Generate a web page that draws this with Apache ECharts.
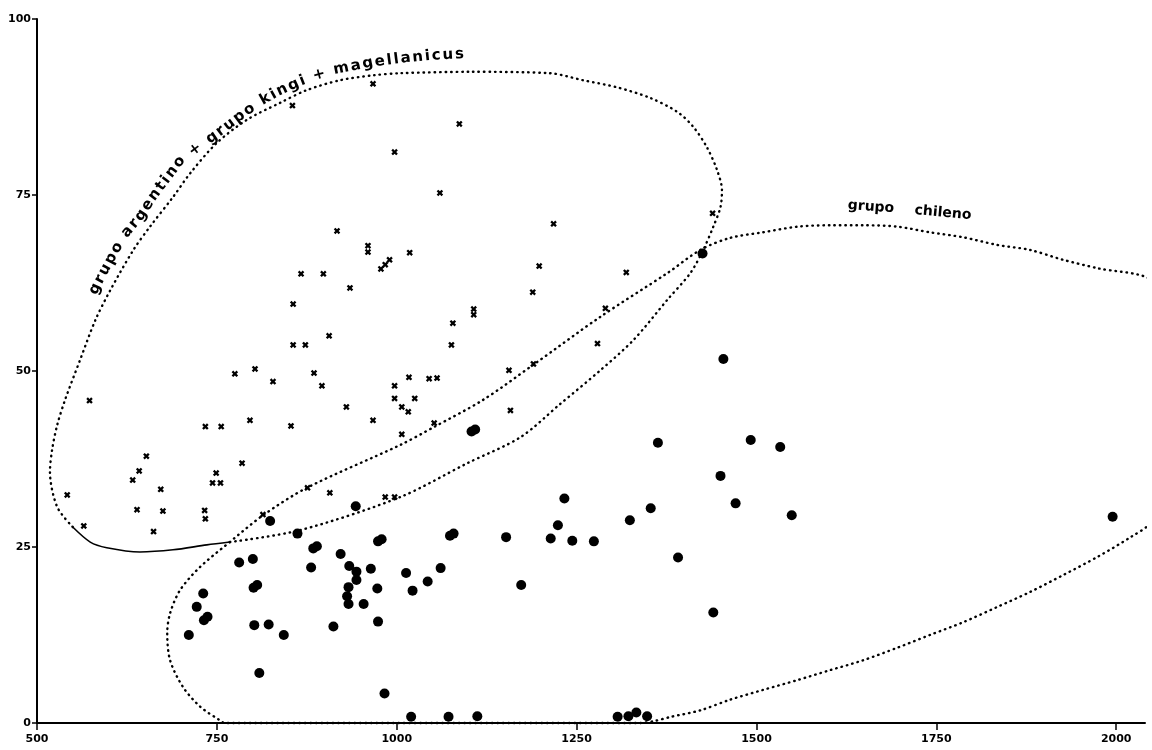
<!DOCTYPE html>
<html><head><meta charset="utf-8">
<script src="https://cdn.jsdelivr.net/npm/echarts@6/dist/echarts.min.js"></script>
<style>html,body{margin:0;padding:0;background:#fff}#c{width:1152px;height:750px}</style>
</head><body><div id="c"></div>
<script>
const xTickValues = [500, 750, 1000, 1250, 1500, 1750, 2000];
const yTickValues = [0, 25, 50, 75, 100];

// grupo argentino + grupo kingi + magellanicus (crosses)
const crossPoints = [
  [967,90.8],[855,87.7],[997,81.1],[917,69.9],[960,67.8],[960,66.9],
  [978,64.5],[984,65.1],[990,65.8],[867,63.8],[898,63.8],[935,61.8],
  [856,59.5],[906,55.0],[856,53.7],[873,53.7],[775,49.6],[803,50.3],
  [828,48.5],[885,49.7],[896,47.9],[997,47.9],[997,46.1],[573,45.8],
  [1087,85.1],[1060,75.3],[1218,70.9],[1018,66.8],[1439,72.4],[1198,64.9],
  [1319,64.0],[1189,61.2],[1107,58.8],[1107,58.0],[1078,56.8],[1290,58.9],
  [1076,53.7],[1279,53.9],[1017,49.1],[1045,48.9],[1056,49.0],[1156,50.1],
  [1190,51.0],[1025,46.1],[930,44.9],[967,43.0],[734,42.1],[756,42.1],
  [796,43.0],[853,42.2],[652,37.9],[642,35.8],[633,34.5],[672,33.2],
  [785,36.9],[749,35.5],[744,34.1],[755,34.1],[542,32.4],[639,30.3],
  [675,30.1],[733,30.2],[734,29.0],[565,28.0],[662,27.2],[876,33.4],
  [907,32.7],[814,29.6],[984,32.1],[997,32.1],[1007,44.9],[1016,44.2],
  [1052,42.6],[1007,41.0],[1158,44.4]
];

// grupo chileno (filled circles)
const circlePoints = [
  [824,28.7],[862,26.9],[943,30.8],[884,24.8],[889,25.1],[974,25.8],[979,26.1],
  [781,22.8],[800,23.3],[922,24.0],[881,22.1],[934,22.3],[944,21.5],[964,21.9],
  [944,20.3],[801,19.2],[806,19.6],[933,19.3],[973,19.1],[731,18.4],[931,18.0],
  [933,16.9],[954,16.9],[722,16.5],[732,14.6],[737,15.1],[802,13.9],[822,14.0],
  [843,12.5],[711,12.5],[912,13.7],[974,14.4],[809,7.1],[983,4.2],
  [1104,41.4],[1109,41.7],[1363,39.8],[1450,35.1],[1233,31.9],[1353,30.5],
  [1324,28.8],[1224,28.1],[1214,26.2],[1244,25.9],[1274,25.8],[1152,26.4],
  [1074,26.6],[1079,26.9],[1013,21.3],[1043,20.1],[1061,22.0],[1022,18.8],
  [1173,19.6],[1391,23.5],[1440,15.7],
  [1020,0.9],[1072,0.9],[1112,0.95],[1307,0.9],[1322,0.95],[1333,1.5],[1348,0.95],
  [1425,66.7],[1454,51.7],[1492,40.2],[1533,39.2],[1471,31.2],[1549,29.5],[1995,29.3]
];

// outline of the argentino/kingi/magellanicus group
const outlineArgentino = [
  [768,25.7],[866,27.4],[1005,32.1],[1098,36.9],[1172,40.6],[1227,45.3],
  [1283,50.1],[1329,54.4],[1376,60.1],[1408,63.9],[1426,67.2],[1440,70.5],
  [1450,73.3],[1452,75.7],[1445,78.6],[1431,81.8],[1412,84.7],[1390,86.8],
  [1352,88.8],[1306,90.3],[1259,91.3],[1213,92.3],[1102,92.5],[1005,92.3],
  [967,92.0],[921,91.3],[875,89.9],[838,88.1],[792,85.7],[750,82.4],
  [713,78.1],[689,74.7],[657,70.5],[634,67.2],[602,61.5],[581,57.2],
  [560,51.6],[539,45.9],[528,42.3],[521,38.8],[518,35.7],[528,30.7],[550,27.8]
];
const outlineArgentinoSolid = [
  [550,27.8],[574,25.7],[597,24.9],[643,24.3],[689,24.6],[736,25.3],[768,25.7]
];
// outline of the chileno group
const outlineChileno = [
  [768,25.7],[814,29.5],[875,33.4],[1005,39.5],[1051,42.0],[1120,45.9],
  [1190,50.9],[1283,57.7],[1376,63.9],[1422,67.2],[1463,68.9],[1509,69.7],
  [1557,70.5],[1602,70.7],[1648,70.7],[1696,70.5],[1741,69.7],[1787,69.0],
  [1835,67.9],[1880,67.2],[1926,65.8],[1974,64.6],[2050,62.9],[2082,57.2],
  [2096,45.9],[2082,34.5],[2050,28.6],[2020,26.4],[1974,23.6],[1926,21.0],
  [1880,18.6],[1835,16.5],[1787,14.3],[1741,12.5],[1696,10.7],[1648,8.9],
  [1602,7.5],[1557,6.1],[1509,4.7],[1463,3.3],[1422,1.8],[1380,0.85],
  [1359,0.3],[1338,0],[1000,0],[761,0],[754,0.4],[727,2.3],[703,5.1],
  [685,8.9],[681,12.8],[685,15.6],[699,18.9],[727,22.2],[768,25.7]
];
const labelArgentino = 'grupo argentino + grupo kingi + magellanicus';
const labelChileno1 = 'grupo';
const labelChileno2 = 'chileno';

const INK = '#000';
const chart = echarts.init(document.getElementById('c'), null, {renderer: 'canvas'});

const dotted = {color: INK, width: 2.4, type: [0.5, 5], cap: 'round', opacity: 1};

chart.setOption({
  animation: false,
  backgroundColor: '#fff',
  grid: {left: 37, right: 7, top: 19, bottom: 27, containLabel: false},
  xAxis: {
    type: 'value', min: 500, max: 2040,
    axisLine: {show: true, onZero: false, lineStyle: {color: INK, width: 2}},
    axisTick: {show: true, length: 7, customValues: xTickValues, lineStyle: {color: INK, width: 1.5}},
    axisLabel: {customValues: xTickValues, margin: 11, color: INK, fontFamily: 'DejaVu Sans', fontWeight: 'bold', fontSize: 11,
      formatter: v => String(v)},
    splitLine: {show: false}
  },
  yAxis: {
    type: 'value', min: 0, max: 100, interval: 25,
    axisLine: {show: true, lineStyle: {color: INK, width: 2}},
    axisTick: {show: true, length: 5, lineStyle: {color: INK, width: 1.5}},
    axisLabel: {margin: 6, color: INK, fontFamily: 'DejaVu Sans', fontWeight: 'bold', fontSize: 11,
      formatter: v => String(v)},
    splitLine: {show: false}
  },
  series: [
    {type: 'line', data: outlineArgentino, smooth: 0.3, symbol: 'none', clip: false, lineStyle: dotted, silent: true},
    {type: 'line', data: outlineArgentinoSolid, smooth: 0.3, symbol: 'none', clip: false, lineStyle: {color: INK, width: 1.6}, silent: true},
    {type: 'line', data: outlineChileno, smooth: 0.3, symbol: 'none', clip: false, lineStyle: dotted, silent: true},
    {type: 'scatter', data: crossPoints, symbol: 'path://M0,2.5 L2.5,0 L5,2.5 L7.5,0 L10,2.5 L7.5,5 L10,7.5 L7.5,10 L5,7.5 L2.5,10 L0,7.5 L2.5,5 Z', symbolSize: 6.5, itemStyle: {color: INK, opacity: 1}},
    {type: 'scatter', data: circlePoints, symbol: 'circle', symbolSize: 10, itemStyle: {color: INK, opacity: 1}}
  ]
});

// text laid along the outline of the first group
function textOnPath(text, pts, font) {
  const ctx = document.createElement('canvas').getContext('2d');
  ctx.font = font;
  const widths = Array.from(text).map(ch => ctx.measureText(ch).width);
  const seg = [0];
  for (let i = 1; i < pts.length; i++) {
    seg.push(seg[i - 1] + Math.hypot(pts[i][0] - pts[i - 1][0], pts[i][1] - pts[i - 1][1]));
  }
  const L = seg[seg.length - 1];
  const W = widths.reduce((a, b) => a + b, 0);
  const gap = (L - W) / (widths.length - 1);
  const out = [];
  let s = 0;
  Array.from(text).forEach((ch, i) => {
    const c = s + widths[i] / 2;
    s += widths[i] + gap;
    if (ch === ' ') return;
    let k = 1;
    while (k < seg.length - 1 && seg[k] < c) k++;
    const t = (c - seg[k - 1]) / (seg[k] - seg[k - 1]);
    const p0 = pts[k - 1], p1 = pts[k];
    const x = p0[0] + (p1[0] - p0[0]) * t, y = p0[1] + (p1[1] - p0[1]) * t;
    const ang = Math.atan2(p1[1] - p0[1], p1[0] - p0[0]);
    out.push({type: 'text', x: x, y: y, rotation: -ang, silent: true,
      style: {text: ch, font: font, fill: INK, align: 'center', verticalAlign: 'middle', textAlign: 'center', textVerticalAlign: 'middle'}});
  });
  return out;
}
const pathA = [[93,294],[98,283],[112,257],[123,237],[140,217],[153,197],[168,177],[180,161],[197,148],[213,137],[230,124],[246,112],[262,101],[280,91],[300,82],[318,75],[340,69],[370,63],[400,59],[430,56],[464,54]];
const graphics = textOnPath(labelArgentino, pathA, 'bold 15px "DejaVu Sans"');
graphics.push({type: 'text', x: 871, y: 207, rotation: -0.07, silent: true,
  style: {text: labelChileno1, font: 'bold 14px "DejaVu Sans"', fill: INK, align: 'center', verticalAlign: 'middle', textAlign: 'center', textVerticalAlign: 'middle'}});
graphics.push({type: 'text', x: 943, y: 213, rotation: -0.09, silent: true,
  style: {text: labelChileno2, font: 'bold 14px "DejaVu Sans"', fill: INK, align: 'center', verticalAlign: 'middle', textAlign: 'center', textVerticalAlign: 'middle'}});
chart.setOption({graphic: graphics});
</script>
</body></html>
